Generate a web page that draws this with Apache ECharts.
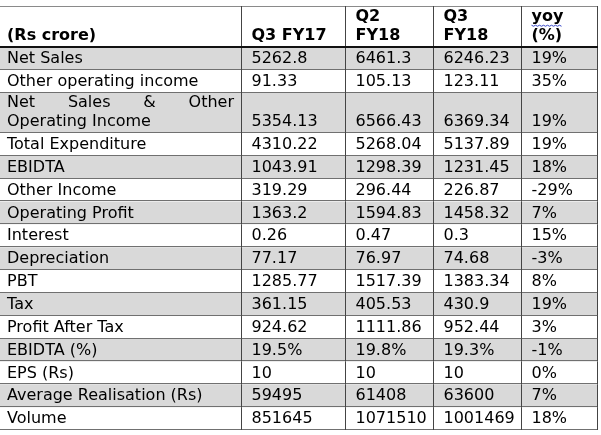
<!DOCTYPE html>
<html><head><meta charset="utf-8">
<script src="https://cdn.jsdelivr.net/npm/echarts@6/dist/echarts.min.js"></script>
<style>html,body{margin:0;padding:0;background:#fff}#c{width:601px;height:435px}</style>
</head><body><div id="c"></div>
<script>
// ---- data ----
const headers = ['(Rs crore)', 'Q3 FY17', 'Q2\nFY18', 'Q3\nFY18', 'yoy\n(%)'];
const categories = ['Net Sales', 'Other operating income', 'Net Sales & Other\nOperating Income',
  'Total Expenditure', 'EBIDTA', 'Other Income', 'Operating Profit', 'Interest', 'Depreciation',
  'PBT', 'Tax', 'Profit After Tax', 'EBIDTA (%)', 'EPS (Rs)', 'Average Realisation (Rs)', 'Volume'];
const q3fy17 = [5262.8, 91.33, 5354.13, 4310.22, 1043.91, 319.29, 1363.2, 0.26, 77.17, 1285.77, 361.15, 924.62, 19.5, 10, 59495, 851645];
const q2fy18 = [6461.3, 105.13, 6566.43, 5268.04, 1298.39, 296.44, 1594.83, 0.47, 76.97, 1517.39, 405.53, 1111.86, 19.8, 10, 61408, 1071510];
const q3fy18 = [6246.23, 123.11, 6369.34, 5137.89, 1231.45, 226.87, 1458.32, 0.3, 74.68, 1383.34, 430.9, 952.44, 19.3, 10, 63600, 1001469];
const yoy = [19, 35, 19, 19, 18, -29, 7, 15, -3, 8, 19, 3, -1, 0, 7, 18];

// ---- layout ----
const colWidths = [242, 104, 88, 88, 76];
const colEdges = [0];
colWidths.forEach(w => colEdges.push(colEdges[colEdges.length - 1] + w));
const rowUnits = [1.8].concat(categories.map(c => c.indexOf('\n') >= 0 ? 1.75 : 1));
const rowEdges = [0];
rowUnits.forEach(u => rowEdges.push(rowEdges[rowEdges.length - 1] + u));
const FONT = '16px "DejaVu Sans"';
const BFONT = 'bold 16px "DejaVu Sans"';
const measureCtx = document.createElement('canvas').getContext('2d');
function textW(t, f) { measureCtx.font = f; return measureCtx.measureText(t).width; }

const valueCols = [q3fy17, q2fy18, q3fy18];
function cellText(col, row) {
  if (row === 0) return headers[col];
  const r = row - 1;
  if (col === 0) return categories[r];
  const pct = categories[r].indexOf('(%)') >= 0;
  if (col === 4) return yoy[r] + '%';
  return String(valueCols[col - 1][r]) + (pct ? '%' : '');
}
function rowIsMulti(row) {
  for (let c = 0; c < colWidths.length; c++) if (cellText(c, row).indexOf('\n') >= 0) return true;
  return false;
}

const cells = [];
for (let row = 0; row < rowUnits.length; row++)
  for (let col = 0; col < colWidths.length; col++) cells.push([col, row]);

function renderItem(params, api) {
  const col = api.value(0), row = api.value(1);
  const p0 = api.coord([colEdges[col], rowEdges[row]]);
  const p1 = api.coord([colEdges[col + 1], rowEdges[row + 1]]);
  const children = [];
  const shaded = row >= 1 && (row - 1) % 2 === 0;
  if (shaded) {
    children.push({ type: 'rect', shape: { x: p0[0], y: p0[1], width: p1[0] - p0[0], height: p1[1] - p0[1] },
      style: { fill: '#d9d9d9' }, z2: 0 });
  }
  // bottom border
  if (row === 0) {
    const yb = Math.round(p1[1]);
    children.push({ type: 'line', shape: { x1: p0[0], y1: yb, x2: p1[0], y2: yb }, style: { stroke: '#111', lineWidth: 2 }, z2: 12 });
    const yt = Math.round(p0[1]) + 0.5;
    children.push({ type: 'line', shape: { x1: p0[0], y1: yt, x2: p1[0], y2: yt }, style: { stroke: '#8a8a8a', lineWidth: 1 }, z2: 10 });
  } else {
    const yb = Math.round(p1[1]) - 0.5;
    children.push({ type: 'line', shape: { x1: p0[0], y1: yb, x2: p1[0], y2: yb }, style: { stroke: '#707070', lineWidth: 1 }, z2: 10 });
  }
  // right border
  const xr = Math.round(p1[0]) - 0.5;
  children.push({ type: 'line', shape: { x1: xr, y1: p0[1], x2: xr, y2: p1[1] }, style: { stroke: '#444', lineWidth: 1 }, z2: 11 });

  const txt = cellText(col, row);
  const lines = txt.split('\n');
  const font = row === 0 ? BFONT : FONT;
  const pad = col === 0 ? 7 : 9.5;
  const gap = row === 0 ? 19 : 18.6;
  const lastY = rowIsMulti(row) ? p1[1] - 11.4 : (p0[1] + p1[1]) / 2 + 0.5;
  lines.forEach((ln, i) => {
    const y = lastY - (lines.length - 1 - i) * gap;
    const x = p0[0] + pad;
    if (row > 0 && col === 0 && i < lines.length - 1) {
      // justified line
      const words = ln.split(' ');
      const widths = words.map(w => textW(w, font));
      const avail = (p1[0] - 8) - x;
      const sp = (avail - widths.reduce((a, b) => a + b, 0)) / (words.length - 1);
      let cx = x;
      words.forEach((w, k) => {
        children.push({ type: 'text', style: { text: w, x: cx, y: y, font: font, fill: '#000', align: 'left', verticalAlign: 'middle' }, z2: 20 });
        cx += widths[k] + sp;
      });
    } else {
      children.push({ type: 'text', style: { text: ln, x: x, y: y, font: font, fill: '#000', align: 'left', verticalAlign: 'middle' }, z2: 20 });
    }
    if (row === 0 && col === 4 && i === 0) {
      // spell-check squiggle under "yoy"
      const w = textW(ln, font);
      const pts = [];
      for (let k = 0; k <= w; k += 2) pts.push([x + k, y + 8.5 + (k % 4 === 0 ? 0 : 1)]);
      children.push({ type: 'polyline', shape: { points: pts }, style: { stroke: '#3848c8', lineWidth: 1, fill: null }, z2: 21 });
    }
  });
  return { type: 'group', children: children };
}

const chart = echarts.init(document.getElementById('c'), null, { renderer: 'canvas' });
chart.setOption({
  animation: false,
  backgroundColor: '#fff',
  grid: { left: 0, top: 6, width: 598, height: 424 },
  xAxis: { type: 'value', min: 0, max: colEdges[colEdges.length - 1], show: false },
  yAxis: { type: 'value', min: 0, max: rowEdges[rowEdges.length - 1], inverse: true, show: false },
  series: [{ type: 'custom', silent: true, renderItem: renderItem, data: cells, encode: { x: 0, y: 1 }, clip: false }]
});
</script>
</body></html>
